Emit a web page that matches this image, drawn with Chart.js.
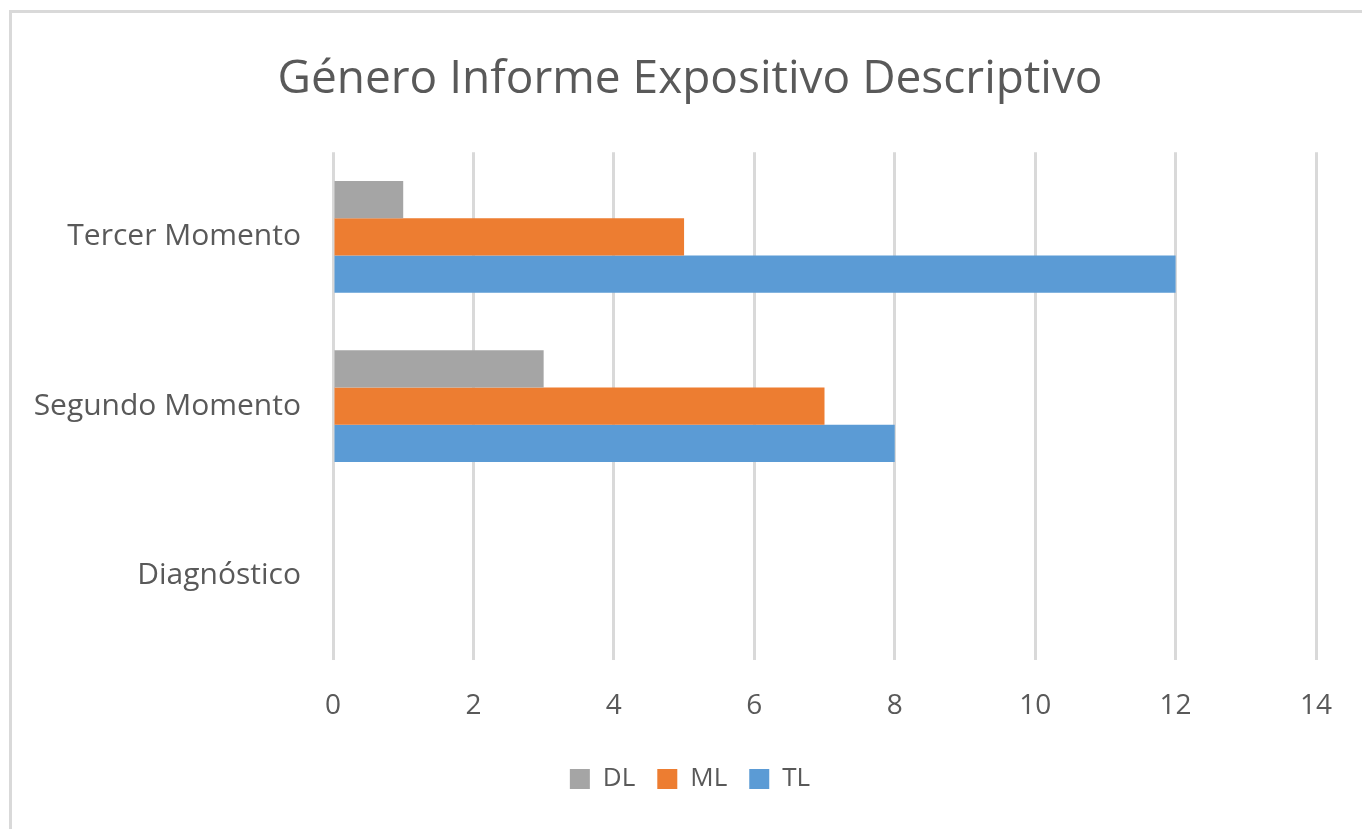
<!DOCTYPE html>
<html>
<head>
<meta charset="utf-8">
<script src="https://cdn.jsdelivr.net/npm/chart.js@4"></script>
<style>
  body { margin: 0; background: #fff; overflow: hidden; }
  #frame { position: absolute; left: 9px; top: 10px; width: 1400px; height: 900px; border: 3px solid #d9d9d9; box-sizing: border-box; }
  #wrap { position: absolute; left: 0; top: 0; width: 1362px; height: 829px; }
</style>
</head>
<body>
<div id="frame"></div>
<div id="wrap"><canvas id="bar-chart" width="1362" height="829"></canvas></div>
<script>
const categories = ["Tercer Momento", "Segundo Momento", "Diagnóstico"];
const dlValues = [1, 3, 0];
const mlValues = [5, 7, 0];
const tlValues = [12, 8, 0];
const xTicks = [0, 2, 4, 6, 8, 10, 12, 14];

const FONT = "'Open Sans', 'Noto Sans', sans-serif";
const TEXT = "#595959";

const BCHART = document.getElementById("bar-chart");

let barChart = new Chart(BCHART, {
  type: "bar",
  data: {
    labels: categories,
    datasets: [
      { label: "DL", data: dlValues, backgroundColor: "#a5a5a5" },
      { label: "ML", data: mlValues, backgroundColor: "#ed7d31" },
      { label: "TL", data: tlValues, backgroundColor: "#5b9bd5" },
    ],
  },
  options: {
    indexAxis: "y",
    responsive: false,
    animation: false,
    devicePixelRatio: 1,
    categoryPercentage: 0.66,
    barPercentage: 1,
    layout: { padding: { left: 18, right: 0, top: 0, bottom: 27 } },
    plugins: {
      title: {
        display: true,
        text: "Género Informe Expositivo Descriptivo",
        color: TEXT,
        font: { family: FONT, size: 46, weight: "normal" },
        padding: { top: 52, bottom: 45 },
      },
      legend: {
        position: "bottom",
        labels: {
          color: TEXT,
          font: { family: FONT, size: 26 },
          boxWidth: 20,
          boxHeight: 20,
          padding: 22,
        },
      },
      tooltip: { enabled: false },
    },
    scales: {
      x: {
        min: 0,
        max: 14,
        afterFit: (s) => { s.height = 84; s.paddingLeft = 0; s.paddingRight = 46; },
        afterBuildTicks: (s) => { s.ticks = xTicks.map((v) => ({ value: v })); },
        grid: { color: "#d9d9d9", lineWidth: 3, drawTicks: false },
        border: { display: false },
        ticks: { color: TEXT, font: { family: FONT, size: 28 }, padding: 29 },
      },
      y: {
        afterFit: (s) => { s.width = 315; },
        grid: { display: false, drawTicks: false },
        border: { display: false },
        ticks: { color: TEXT, font: { family: FONT, size: 30 }, padding: 32 },
      },
    },
  },
});
</script>
</body>
</html>
